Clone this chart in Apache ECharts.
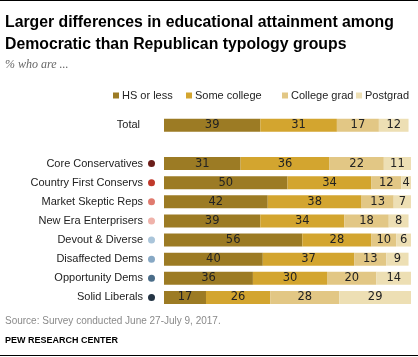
<!DOCTYPE html>
<html><head><meta charset="utf-8">
<script src="https://cdn.jsdelivr.net/npm/echarts@6/dist/echarts.min.js"></script>
<style>html,body{margin:0;padding:0;background:#fff}#c{width:418px;height:357px}</style>
</head><body><div id="c"></div>
<script>
const categories = ['Total', '', 'Core Conservatives', 'Country First Conservs', 'Market Skeptic Reps', 'New Era Enterprisers', 'Devout & Diverse', 'Disaffected Dems', 'Opportunity Dems', 'Solid Liberals'];
const dotColors = [null, null, '#6b1e1a', '#c0392b', '#e07a6e', '#efb2aa', '#aac5da', '#87a8c4', '#4b6d89', '#243444'];
const seriesNames = ['HS or less', 'Some college', 'College grad', 'Postgrad'];
const hsOrLess    = [39, '-', 31, 50, 42, 39, 56, 40, 36, 17];
const someCollege = [31, '-', 36, 34, 38, 34, 28, 37, 30, 26];
const collegeGrad = [17, '-', 22, 12, 13, 18, 10, 13, 20, 28];
const postgrad    = [12, '-', 11,  4,  7,  8,  6,  9, 14, 29];
const seriesColors = ['#9c7b24', '#d3a52f', '#e2c785', '#eddfb4'];
const legendLeft = [113, 186, 282, 356];

const values = [hsOrLess, someCollege, collegeGrad, postgrad];
const rich = { n: { fontFamily: 'Liberation Sans', fontSize: 11, color: '#222' }, sp: { width: 5 } };
dotColors.forEach((c, i) => { if (c) rich['d' + i] = { width: 7, height: 7, borderRadius: 3.5, backgroundColor: c }; });

const chart = echarts.init(document.getElementById('c'), null, { renderer: 'canvas' });
chart.setOption({
  animation: false,
  title: [
    { text: 'Larger differences in educational attainment among\nDemocratic than Republican typology groups', left: 0, top: 7,
      textStyle: { fontFamily: 'Liberation Sans', fontWeight: 'bold', fontSize: 15.8, lineHeight: 22, color: '#000' } },
    { text: '% who are ...', left: 0, top: 54,
      textStyle: { fontFamily: 'Liberation Serif', fontStyle: 'italic', fontWeight: 'normal', fontSize: 12, color: '#666' } },
    { text: 'Source: Survey conducted June 27-July 9, 2017.', left: 0, top: 311,
      textStyle: { fontFamily: 'Liberation Sans', fontWeight: 'normal', fontSize: 10, color: '#8a8a8a' } },
    { text: 'PEW RESEARCH CENTER', left: 0, top: 331,
      textStyle: { fontFamily: 'Liberation Sans', fontWeight: 'bold', fontSize: 9, color: '#000' } }
  ],
  legend: seriesNames.map((n, i) => ({
    data: [n], left: legendLeft[i], top: 90, itemWidth: 6, itemHeight: 6, icon: 'rect', padding: 0,
    textStyle: { fontFamily: 'Liberation Sans', fontSize: 11, color: '#222', padding: [0, 0, 0, -2] }
  })),
  grid: { left: 164, right: 7, top: 115.7, bottom: 50, containLabel: false },
  xAxis: { type: 'value', min: 0, max: 100, show: false },
  yAxis: {
    type: 'category', data: categories, inverse: true,
    axisLine: { show: false }, axisTick: { show: false }, splitLine: { show: false },
    axisLabel: {
      margin: 9, align: 'right', rich: rich,
      formatter: (v, i) => {
        if (!v) return '';
        return dotColors[i] ? '{n|' + v + '}{sp|}{d' + i + '|}' : '{n|' + v + '}{sp|}{sp|}{sp|}';
      }
    }
  },
  series: values.map((d, i) => ({
    name: seriesNames[i], type: 'bar', stack: 'edu', data: d, barWidth: 13,
    itemStyle: { color: seriesColors[i] },
    label: { show: true, position: 'inside', color: '#222', fontFamily: 'DejaVu Sans', fontSize: 11.5 }
  })),
  graphic: [
    { type: 'line', shape: { x1: 0, y1: 0.5, x2: 418, y2: 0.5 }, style: { stroke: '#000', lineWidth: 1 } },
    { type: 'line', shape: { x1: 0, y1: 355.5, x2: 418, y2: 355.5 }, style: { stroke: '#000', lineWidth: 1 } }
  ]
});
</script></body></html>
